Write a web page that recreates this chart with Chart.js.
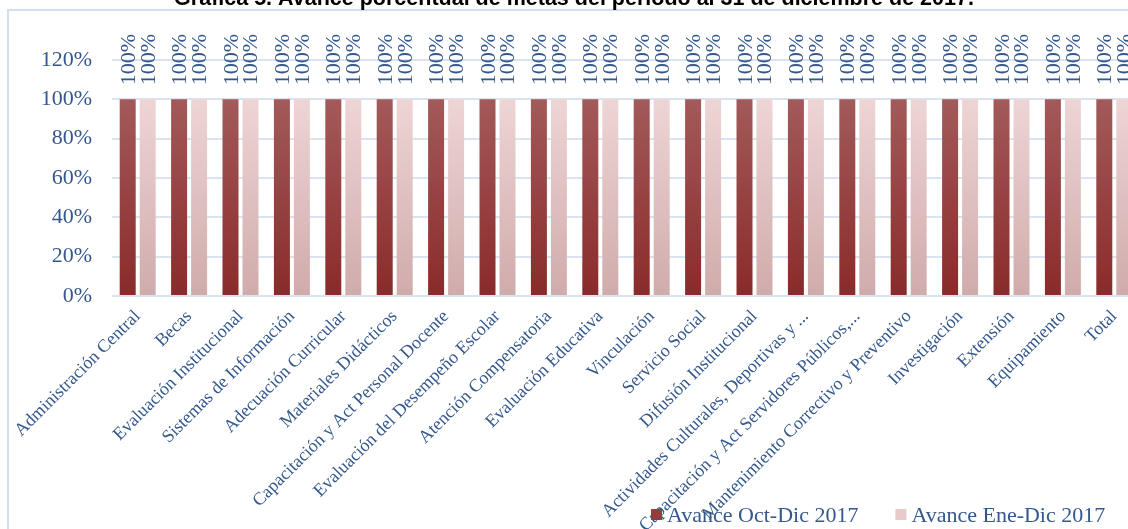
<!DOCTYPE html>
<html>
<head>
<meta charset="utf-8">
<script src="https://cdn.jsdelivr.net/npm/chart.js@4"></script>
<style>
html,body{margin:0;padding:0;background:#fff;overflow:hidden;}
#wrap{position:absolute;left:0;top:0;width:1160px;height:529px;}
</style>
</head>
<body>
<div id="wrap"><canvas id="metasChart"></canvas></div>
<script>
// -------- datos --------
const categorias = [
    'Administración Central', 'Becas', 'Evaluación Institucional', 'Sistemas de Información',
    'Adecuación Curricular', 'Materiales Didácticos', 'Capacitación y Act Personal Docente',
    'Evaluación del Desempeño Escolar', 'Atención Compensatoria', 'Evaluación Educativa',
    'Vinculación', 'Servicio Social', 'Difusión Institucional',
    'Actividades Culturales, Deportivas y ...', 'Capacitación y Act Servidores Públicos,...',
    'Mantenimiento Correctivo y Preventivo', 'Investigación', 'Extensión', 'Equipamiento', 'Total'
];
const avanceOctDic = [100,100,100,100,100,100,100,100,100,100,100,100,100,100,100,100,100,100,100,100];
const avanceEneDic = [100,100,100,100,100,100,100,100,100,100,100,100,100,100,100,100,100,100,100,100];
const series = ['Avance Oct-Dic 2017', 'Avance Ene-Dic 2017'];
const ticksY = [0, 20, 40, 60, 80, 100, 120];
const titulo = 'Gráfica 5. Avance porcentual de metas del periodo al 31 de diciembre de 2017.';

const azul = '#34588C';
const serif = '"Liberation Serif", "Times New Roman", serif';
const rejilla = '#D9E3F1';

// degradado vertical de cada barra
function degradado(ctx, arriba, abajo){
    const chart = ctx.chart;
    if(!chart.chartArea) return abajo;
    const y = chart.scales.y;
    const g = chart.ctx.createLinearGradient(0, y.getPixelForValue(100), 0, y.getPixelForValue(0));
    g.addColorStop(0, arriba);
    g.addColorStop(1, abajo);
    return g;
}

// -------- plugins propios --------
const marco = {
    id:'marco',
    beforeDraw(chart){
        const c = chart.ctx;
        c.save();
        c.strokeStyle = '#D3DFEE';
        c.lineWidth = 2;
        c.beginPath();
        c.moveTo(8, chart.height);
        c.lineTo(8, 10);
        c.lineTo(chart.width, 10);
        c.stroke();
        c.restore();
    }
};

const etiquetasBarras = {
    id:'etiquetasBarras',
    afterDatasetsDraw(chart){
        const c = chart.ctx;
        c.save();
        c.font = '22px ' + serif;
        c.fillStyle = azul;
        c.textAlign = 'left';
        c.textBaseline = 'alphabetic';
        chart.data.datasets.forEach((ds,i)=>{
            chart.getDatasetMeta(i).data.forEach((bar,j)=>{
                c.save();
                c.translate(bar.x + 7, bar.y - 14);
                c.rotate(-Math.PI/2);
                c.fillText(ds.data[j] + '%', 0, 0);
                c.restore();
            });
        });
        c.restore();
    }
};

const tituloYLeyenda = {
    id:'tituloYLeyenda',
    afterDraw(chart){
        const c = chart.ctx;
        c.save();
        // titulo (cortado arriba, como en la imagen)
        c.font = 'bold 21.5px "Liberation Sans", Arial, sans-serif';
        c.fillStyle = '#000';
        c.textAlign = 'center';
        c.textBaseline = 'alphabetic';
        c.fillText(titulo, 574, 5);

        // leyenda
        const colores = ['#973C3C', '#E8CACA'];
        c.font = '22px ' + serif;
        c.textAlign = 'left';
        let x = 651;
        chart.data.datasets.forEach((ds,i)=>{
            c.fillStyle = colores[i];
            c.fillRect(x, 509, 11, 11);
            c.fillStyle = azul;
            c.fillText(ds.label, x + 16, 522);
            x += 16 + c.measureText(ds.label).width + 37;
        });
        c.restore();
    }
};

// -------- grafica --------
new Chart(document.getElementById('metasChart'),{
    type:'bar',
    data:{
        labels: categorias,
        datasets:[
            {label:series[0], data:avanceOctDic,
             backgroundColor: ctx=>degradado(ctx, '#A35A5A', '#8A2A2A')},
            {label:series[1], data:avanceEneDic,
             backgroundColor: ctx=>degradado(ctx, '#EED5D5', '#D0ABAB')}
        ]
    },
    options:{
        responsive:true,
        maintainAspectRatio:false,
        animation:false,
        layout:{padding:{top:60, right:20, left:0, bottom:0}},
        categoryPercentage:0.778,
        barPercentage:0.8,
        plugins:{
            legend:{display:false},
            tooltip:{enabled:false}
        },
        scales:{
            x:{
                grid:{display:false, drawTicks:false},
                border:{display:false},
                ticks:{
                    autoSkip:false, maxRotation:45, minRotation:45, padding:10,
                    color:azul, font:{family:serif, size:18}
                },
                afterFit(scale){
                    scale.height = 233;
                    scale.paddingLeft = 0;
                    scale.paddingRight = 0;
                }
            },
            y:{
                min:ticksY[0], max:ticksY[ticksY.length-1],
                grid:{color:rejilla, lineWidth:2, drawTicks:false},
                border:{display:false},
                ticks:{
                    stepSize:ticksY[1]-ticksY[0], padding:20,
                    color:azul, font:{family:serif, size:22},
                    callback:v=>v + '%'
                },
                afterFit(scale){ scale.width = 112; }
            }
        }
    },
    plugins:[marco, etiquetasBarras, tituloYLeyenda]
});
</script>
</body>
</html>
